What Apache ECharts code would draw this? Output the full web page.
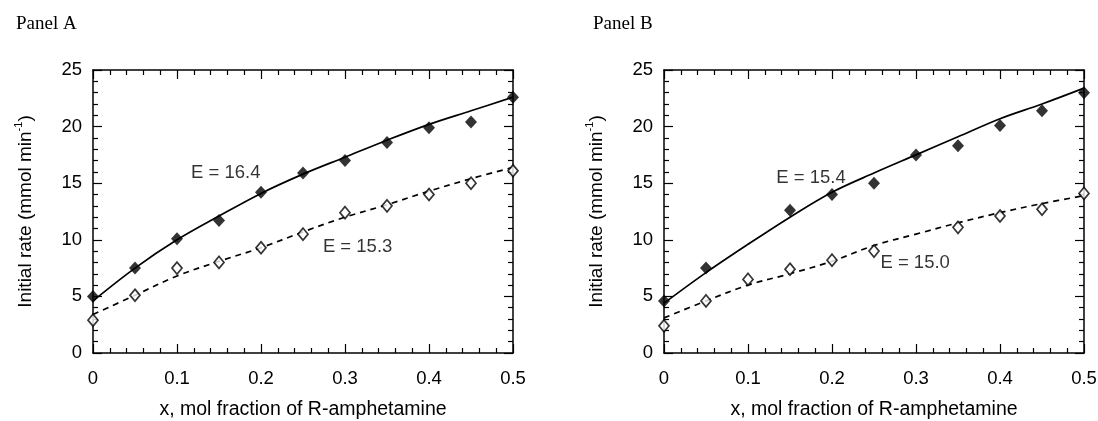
<!DOCTYPE html>
<html>
<head>
<meta charset="utf-8">
<script src="https://cdn.jsdelivr.net/npm/echarts@6/dist/echarts.min.js"></script>
<style>html,body{margin:0;padding:0;background:#fff}#c{width:1098px;height:421px}</style>
</head>
<body>
<div id="c"></div>
<script>
// ---- data ----
const panelTitles = ['Panel A', 'Panel B'];
const xLabelText = 'x, mol fraction of R-amphetamine';
const xTicks = [0, 0.1, 0.2, 0.3, 0.4, 0.5];
const yTicks = [0, 5, 10, 15, 20, 25];

// Panel A
const aFilledX = [0, 0.05, 0.1, 0.15, 0.2, 0.25, 0.3, 0.35, 0.4, 0.45, 0.5];
const aFilledY = [5.0, 7.5, 10.1, 11.7, 14.2, 15.9, 17.0, 18.6, 19.9, 20.4, 22.6];
const aOpenX = [0, 0.05, 0.1, 0.15, 0.2, 0.25, 0.3, 0.35, 0.4, 0.45, 0.5];
const aOpenY = [2.9, 5.1, 7.5, 8.0, 9.3, 10.5, 12.4, 13.0, 14.0, 15.0, 16.1];
const aFitX = [0, 0.05, 0.1, 0.15, 0.2, 0.25, 0.3, 0.35, 0.4, 0.45, 0.5];
const aSolidFit = [4.6, 7.5, 10.0, 12.1, 14.1, 15.8, 17.3, 18.8, 20.2, 21.4, 22.6];
const aDashedFit = [3.4, 5.1, 6.8, 8.1, 9.3, 10.7, 12.0, 13.1, 14.3, 15.4, 16.4];
const aNotes = [[0.158, 15.9, 'E = 16.4'], [0.315, 9.4, 'E = 15.3']];

// Panel B
const bFilledX = [0, 0.05, 0.15, 0.2, 0.25, 0.3, 0.35, 0.4, 0.45, 0.5];
const bFilledY = [4.6, 7.5, 12.6, 14.0, 15.0, 17.5, 18.3, 20.1, 21.4, 23.0];
const bOpenX = [0, 0.05, 0.1, 0.15, 0.2, 0.25, 0.35, 0.4, 0.45, 0.5];
const bOpenY = [2.4, 4.6, 6.5, 7.4, 8.2, 9.0, 11.1, 12.1, 12.7, 14.1];
const bFitX = [0, 0.05, 0.1, 0.15, 0.2, 0.25, 0.3, 0.35, 0.4, 0.45, 0.5];
const bSolidFit = [4.4, 7.1, 9.6, 12.0, 14.2, 15.9, 17.5, 19.1, 20.7, 22.0, 23.4];
const bDashedFit = [3.1, 4.6, 6.0, 7.0, 8.1, 9.5, 10.5, 11.5, 12.4, 13.2, 13.9];
const bNotes = [[0.175, 15.5, 'E = 15.4'], [0.299, 7.95, 'E = 15.0']];

// ---- chart ----
const SANS = 'Liberation Sans, Arial, Helvetica, sans-serif';
const SERIF = 'Liberation Serif, Times New Roman, serif';
const zip = (xs, ys) => xs.map((x, i) => [x, ys[i]]);

const grids = [
  {left: 93, top: 70, width: 420, height: 283, containLabel: false, outerBoundsMode: 'none'},
  {left: 664, top: 70, width: 420, height: 283, containLabel: false, outerBoundsMode: 'none'}
];

const lineStyleAxis = {color: '#000', width: 1.5};
const tickStyle = {color: '#000', width: 1.2};
function xAxes(gi) {
  const base = {
    type: 'value', gridIndex: gi, min: xTicks[0], max: xTicks[xTicks.length - 1],
    interval: xTicks[1] - xTicks[0],
    axisLine: {show: true, onZero: false, lineStyle: lineStyleAxis},
    axisTick: {show: true, inside: true, length: 9, lineStyle: tickStyle},
    minorTick: {show: true, splitNumber: 5, length: 5, lineStyle: tickStyle},
    splitLine: {show: false}, minorSplitLine: {show: false}
  };
  return [
    Object.assign({}, base, {
      position: 'bottom',
      axisLabel: {show: true, margin: 16, color: '#000', fontFamily: SANS, fontSize: 18.5,
        formatter: v => (Math.round(v * 10) / 10).toString()},
      name: xLabelText, nameLocation: 'middle', nameGap: 47,
      nameTextStyle: {color: '#000', fontFamily: SANS, fontSize: 19.5}
    }),
    Object.assign({}, base, {position: 'top', axisLabel: {show: false}})
  ];
}
function yAxes(gi) {
  const base = {
    type: 'value', gridIndex: gi, min: yTicks[0], max: yTicks[yTicks.length - 1],
    interval: yTicks[1] - yTicks[0],
    axisLine: {show: true, onZero: false, lineStyle: lineStyleAxis},
    axisTick: {show: true, inside: true, length: 9, lineStyle: tickStyle},
    minorTick: {show: true, splitNumber: 5, length: 5, lineStyle: tickStyle},
    splitLine: {show: false}, minorSplitLine: {show: false}
  };
  return [
    Object.assign({}, base, {
      position: 'left',
      axisLabel: {show: true, margin: 11, color: '#000', fontFamily: SANS, fontSize: 18.5},
      name: '{n|Initial rate (mmol min}{s|-1}{n|)}', nameLocation: 'middle', nameGap: 58, nameRotate: 90,
      nameTextStyle: {
        color: '#000', fontFamily: SANS, fontSize: 19,
        rich: {
          n: {fontFamily: SANS, fontSize: 19, color: '#000', lineHeight: 22, verticalAlign: 'bottom'},
          s: {fontFamily: SANS, fontSize: 11, color: '#000', lineHeight: 22, verticalAlign: 'top'}
        }
      }
    }),
    Object.assign({}, base, {position: 'right', axisLabel: {show: false}})
  ];
}

function panelSeries(xi, yi, fitX, solid, dashed, fX, fY, oX, oY, notes) {
  return [
    {type: 'line', xAxisIndex: xi, yAxisIndex: yi, data: zip(fitX, solid), smooth: 0.35,
      showSymbol: false, symbol: 'none', lineStyle: {color: '#000', width: 1.7}, z: 2, silent: true},
    {type: 'line', xAxisIndex: xi, yAxisIndex: yi, data: zip(fitX, dashed), smooth: 0.35,
      showSymbol: false, symbol: 'none', lineStyle: {color: '#000', width: 1.7, type: [6, 5]}, z: 2, silent: true},
    {type: 'scatter', xAxisIndex: xi, yAxisIndex: yi, data: zip(fX, fY), symbol: 'diamond',
      symbolSize: [12, 13], itemStyle: {color: '#000'}, z: 3, silent: true},
    {type: 'scatter', xAxisIndex: xi, yAxisIndex: yi, data: zip(oX, oY), symbol: 'diamond',
      symbolSize: [10, 12], itemStyle: {color: '#fff', borderColor: '#000', borderWidth: 1.7}, z: 3, silent: true},
    {type: 'scatter', xAxisIndex: xi, yAxisIndex: yi, data: notes.map(n => ({value: [n[0], n[1]], name: n[2]})),
      symbolSize: 0, z: 4, silent: true,
      label: {show: true, position: 'inside', formatter: p => p.name, color: '#000', fontFamily: SANS, fontSize: 18.5}}
  ];
}

const chart = echarts.init(document.getElementById('c'), null, {renderer: 'canvas'});
chart.setOption({
  animation: false,
  backgroundColor: '#fff',
  title: [
    {text: panelTitles[0], left: 11, top: 10, textStyle: {fontFamily: SERIF, fontWeight: 'normal', fontSize: 19, color: '#000'}},
    {text: panelTitles[1], left: 588, top: 10, textStyle: {fontFamily: SERIF, fontWeight: 'normal', fontSize: 19, color: '#000'}}
  ],
  grid: grids,
  xAxis: [...xAxes(0), ...xAxes(1)],
  yAxis: [...yAxes(0), ...yAxes(1)],
  series: [
    ...panelSeries(0, 0, aFitX, aSolidFit, aDashedFit, aFilledX, aFilledY, aOpenX, aOpenY, aNotes),
    ...panelSeries(2, 2, bFitX, bSolidFit, bDashedFit, bFilledX, bFilledY, bOpenX, bOpenY, bNotes)
  ]
});
</script>
</body>
</html>
